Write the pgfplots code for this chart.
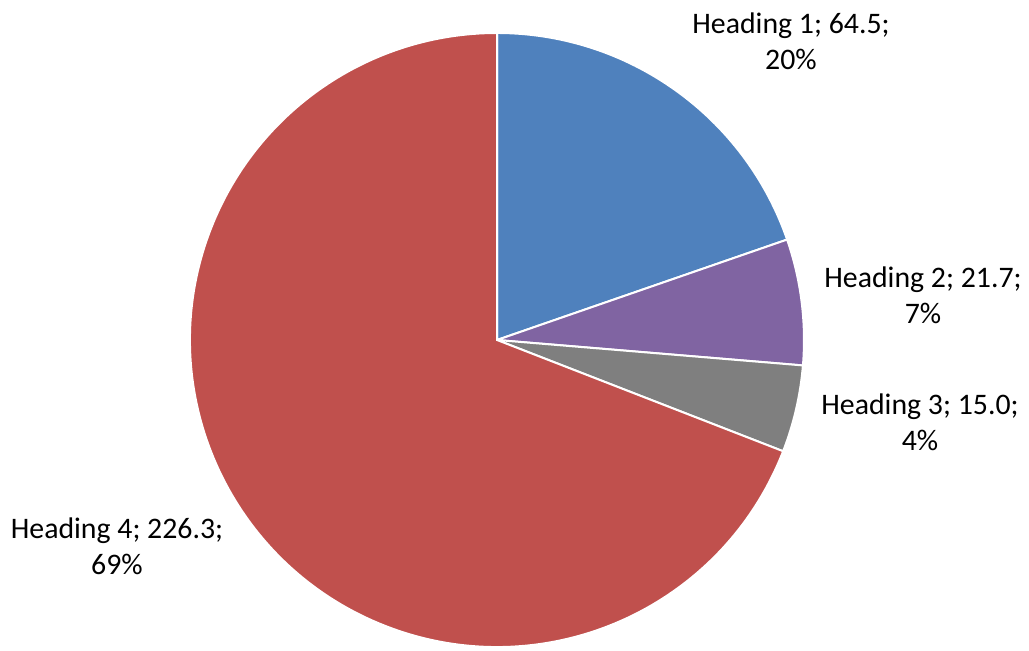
\documentclass[border=0pt]{standalone}
\usepackage{pgfplots}
\pgfplotsset{compat=1.18}
\usepackage{fontspec}
\setmainfont{Carlito}

\definecolor{hone}{HTML}{4F81BD}
\definecolor{htwo}{HTML}{8064A2}
\definecolor{hthree}{HTML}{7F7F7F}
\definecolor{hfour}{HTML}{C0504D}

% slice values
\def\vA{64.5}
\def\vB{21.7}
\def\vC{15.0}
\def\vD{226.3}

\begin{document}
\begin{tikzpicture}
\pgfmathsetmacro\tot{\vA+\vB+\vC+\vD}
\pgfmathsetmacro\aA{90-360*(\vA/\tot)}
\pgfmathsetmacro\aB{\aA-360*(\vB/\tot)}
\pgfmathsetmacro\aC{\aB-360*(\vC/\tot)}
\def\R{153.5pt}
\begin{axis}[
    x=0.5pt, y=0.5pt,
    xmin=0, xmax=1029, ymin=0, ymax=651,
    scale only axis,
    hide axis,
    ticks=none,
    clip=false,
]
\filldraw[fill=hone, draw=white, line width=1pt] (axis cs:497,311) -- ++(90:\R) arc[start angle=90, end angle=\aA, radius=\R] -- cycle;
\filldraw[fill=htwo, draw=white, line width=1pt] (axis cs:497,311) -- ++(\aA:\R) arc[start angle=\aA, end angle=\aB, radius=\R] -- cycle;
\filldraw[fill=hthree, draw=white, line width=1pt] (axis cs:497,311) -- ++(\aB:\R) arc[start angle=\aB, end angle=\aC, radius=\R] -- cycle;
\filldraw[fill=hfour, draw=white, line width=1pt] (axis cs:497,311) -- ++(\aC:\R) arc[start angle=\aC, end angle=-270, radius=\R] -- cycle;

\tikzset{lbl/.style={align=center, font=\fontsize{14.9}{18}\selectfont, inner sep=0pt}}
\node[lbl] at (axis cs:791,610) {Heading 1; 64.5;\\20\%};
\node[lbl] at (axis cs:923,356) {Heading 2; 21.7;\\7\%};
\node[lbl] at (axis cs:920,229) {Heading 3; 15.0;\\4\%};
\node[lbl] at (axis cs:117,105) {Heading 4; 226.3;\\69\%};
\end{axis}
\pgfresetboundingbox
\useasboundingbox (current axis.south west) rectangle (current axis.north east);
\end{tikzpicture}
\end{document}
